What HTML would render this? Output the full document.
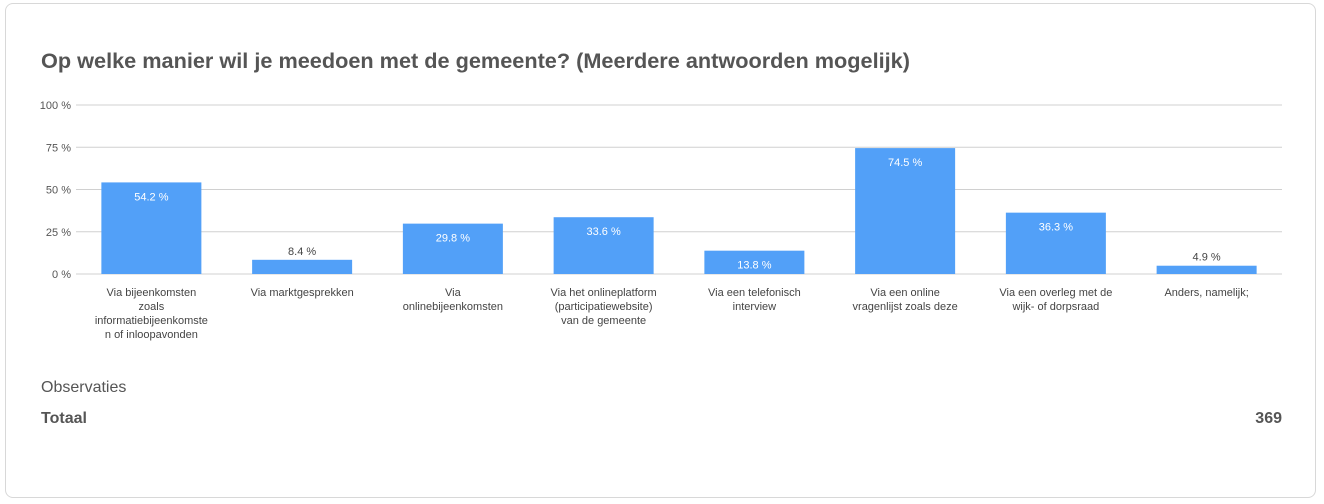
<!DOCTYPE html>
<html><head><meta charset="utf-8"><style>
body{margin:0;width:1324px;height:504px;background:#fff;font-family:"Liberation Sans",sans-serif;overflow:hidden}
#card{position:absolute;left:5px;top:3px;width:1311px;height:495px;border:1px solid #d8d8d8;border-radius:8px;box-sizing:border-box}
#title{position:absolute;left:41px;top:48px;font-size:21.7px;font-weight:bold;color:#555}
.obs{position:absolute;left:41px;top:379px;font-size:16px;color:#555}
.tot{position:absolute;left:41px;top:410px;font-size:16px;font-weight:bold;color:#555}
.totv{position:absolute;right:42px;top:410px;font-size:16px;font-weight:bold;color:#555}
</style></head><body>
<div id="card"></div>
<div id="title">Op welke manier wil je meedoen met de gemeente? (Meerdere antwoorden mogelijk)</div>
<svg id="chart" width="1324" height="504" style="position:absolute;left:0;top:0"></svg>
<div class="obs">Observaties</div>
<div class="tot">Totaal</div>
<div class="totv">369</div>
<script>
const categories=[["Via bijeenkomsten","zoals","informatiebijeenkomste","n of inloopavonden"],["Via marktgesprekken"],["Via","onlinebijeenkomsten"],["Via het onlineplatform","(participatiewebsite)","van de gemeente"],["Via een telefonisch","interview"],["Via een online","vragenlijst zoals deze"],["Via een overleg met de","wijk- of dorpsraad"],["Anders, namelijk;"]];
const values=[54.2,8.4,29.8,33.6,13.8,74.5,36.3,4.9];
const yTicks=[0,25,50,75,100];
const NS="http://www.w3.org/2000/svg";
const svg=document.getElementById('chart');
const x0=76,x1=1282,y0=274,y1=105;
const band=(x1-x0)/categories.length;
const y=v=>y0-(v/100)*(y0-y1);
const xc=i=>x0+band*(i+0.5);
function mk(t,a){const e=document.createElementNS(NS,t);for(const k in a)e.setAttribute(k,a[k]);svg.appendChild(e);return e;}
yTicks.forEach(t=>{
 const l=mk('line',{x1:x0,x2:x1,y1:y(t),y2:y(t),stroke:'#d0d0d0','stroke-width':1});
 
 
 const tx=mk('text',{x:71,y:y(t)+4,'text-anchor':'end','font-size':11,fill:'#555'});
 tx.textContent=t+' %';
 
 
});
values.forEach((v,i)=>{
 const bw=100;
 const r=mk('rect',{x:xc(i)-bw/2,y:y(v),width:bw,height:y0-y(v),fill:'#52a0f8'});
 
 
 const inside=(y0-y(v))>20;
 const t=mk('text',{x:xc(i),y:inside?y(v)+18:y(v)-5,'text-anchor':'middle','font-size':11,fill:inside?'#fff':'#444'});
 t.textContent=v.toFixed(1)+' %';
 
 
 categories[i].forEach((ln,j)=>{
  const c=mk('text',{x:xc(i),y:296+j*14,'text-anchor':'middle','font-size':11,fill:'#444'});
  c.textContent=ln;
  
  
 });
});
</script>
</body></html>
